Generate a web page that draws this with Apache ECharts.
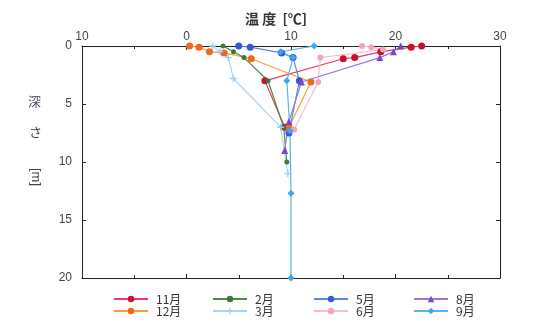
<!DOCTYPE html>
<html>
<head>
<meta charset="utf-8">
<script src="https://cdn.jsdelivr.net/npm/echarts@6/dist/echarts.min.js"></script>
<style>
  html, body { margin: 0; padding: 0; background: #fff; }
  #chart { width: 533px; height: 328px; }
</style>
</head>
<body>
<div id="chart"></div>
<script>
// temperature profiles: depth [m] and temperature [°C] per month
const months = ['11月', '12月', '2月', '3月', '5月', '6月', '8月', '9月'];

const depth11 = [0, 0.1, 0.5, 1.0, 1.1, 3.0, 7.0];
const temp11 = [22.5, 21.5, 18.6, 16.1, 15.0, 7.5, 9.4];

const depth12 = [0, 0.1, 0.5, 0.6, 1.1, 3.1, 7.0];
const temp12 = [0.3, 1.2, 2.2, 3.6, 6.2, 11.9, 9.8];

const depth2 = [0, 0.5, 1.0, 3.0, 7.0, 10.0];
const temp2 = [3.5, 4.5, 5.5, 7.8, 9.3, 9.6];

const depth3 = [0, 0.5, 1.0, 2.8, 7.0, 11.0];
const temp3 = [2.5, 3.2, 4.0, 4.5, 9.0, 9.7];

const depth5 = [0, 0.1, 0.6, 1.0, 3.0, 7.5];
const temp5 = [5.0, 6.1, 9.1, 10.2, 10.8, 9.8];

const depth6 = [0, 0.1, 0.3, 1.0, 3.1, 7.2];
const temp6 = [16.8, 17.7, 18.8, 12.8, 12.6, 10.3];

const depth8 = [0, 0.5, 1.0, 3.1, 6.5, 9.0];
const temp8 = [20.5, 19.8, 18.5, 11.0, 9.8, 9.4];

const depth9 = [0, 0.5, 1.0, 3.0, 7.3, 12.7, 20.0];
const temp9 = [12.2, 9.0, 10.2, 9.6, 9.9, 10.0, 10.0];

const xTicks = [-10, 0, 10, 20, 30];
const xTickText = ['10', '0', '10', '20', '30'];
const yTicks = [0, 5, 10, 15, 20];

const profiles = [
  [depth11, temp11], [depth12, temp12], [depth2, temp2], [depth3, temp3],
  [depth5, temp5], [depth6, temp6], [depth8, temp8], [depth9, temp9],
];
const colors = ['#c4122f', '#f2661e', '#3d7a3a', '#9ccdf3', '#3a55d9', '#f6a5b6', '#7a45c8', '#3ea6ee'];
const lineColors = ['#e0406a', '#f5a040', '#4f8a48', '#a8d4f5', '#5b86e6', '#f8bccb', '#9a78d8', '#5ab4f0'];
const plusPath = 'path://M4,0L6,0L6,4L10,4L10,6L6,6L6,10L4,10L4,6L0,6L0,4L4,4Z';
const symbols = ['circle', 'circle', 'circle', plusPath, 'circle', 'circle', 'triangle', 'diamond'];
const sizes = [7, 7, 5, 7, 7, 6, 7, 7];

const chart = echarts.init(document.getElementById('chart'));

const series = months.map((name, i) => ({
  name,
  type: 'line',
  data: profiles[i][0].map((d, j) => [profiles[i][1][j], d]),
  symbol: symbols[i],
  symbolSize: sizes[i],
  itemStyle: { color: colors[i] },
  lineStyle: { color: lineColors[i], width: 1.2 },
  emphasis: { disabled: true },
  z: 3,
}));

const legendCols = [['11月', '12月'], ['2月', '3月'], ['5月', '6月'], ['8月', '9月']];
const legendLeft = [108, 207, 308, 408];

const axisLine = { show: true, onZero: false, lineStyle: { color: '#222', width: 1 } };
const tick = { show: true, inside: true, length: 4, lineStyle: { color: '#222' } };

chart.setOption({
  backgroundColor: '#fff',
  animation: false,
  title: {
    text: '温 度  [℃]',
    left: 240,
    top: 7,
    textStyle: { fontSize: 14, fontWeight: 'bold', color: '#333', fontFamily: 'Noto Sans CJK JP' },
  },
  legend: legendCols.map((names, i) => ({
    orient: 'vertical',
    left: legendLeft[i],
    top: 288,
    data: names,
    itemWidth: 34,
    itemHeight: 8,
    itemGap: 0,
    textStyle: { fontSize: 12, color: '#333', fontFamily: 'Noto Sans CJK JP', padding: [0, 0, 0, 3] },
  })),
  graphic: [
    { type: 'text', left: 28, top: 95, style: { text: '深', font: '13px "Noto Sans CJK JP"', fill: '#5a4a6a' } },
    { type: 'text', left: 29, top: 126, style: { text: 'さ', font: '13px "Noto Sans CJK JP"', fill: '#444' } },
    {
      type: 'text', x: 36, y: 177, rotation: -Math.PI / 2,
      style: { text: '[m]', font: '13px "Liberation Sans"', fill: '#444', align: 'center', verticalAlign: 'middle' },
    },
  ],
  grid: { left: 82, right: 33, top: 46, bottom: 50 },
  xAxis: [
    {
      type: 'value',
      position: 'top',
      min: -10,
      max: 30,
      interval: 10,
      axisLine,
      axisTick: tick,
      minorTick: { show: true, splitNumber: 2, length: 3, lineStyle: { color: '#222' } },
      axisLabel: {
        margin: 3,
        fontSize: 12,
        color: '#444',
        fontFamily: 'Liberation Sans',
        formatter: v => xTickText[xTicks.indexOf(v)] ?? '',
      },
      splitLine: { show: false },
    },
    {
      type: 'value',
      position: 'bottom',
      min: -10,
      max: 30,
      interval: 10,
      axisLine,
      axisTick: tick,
      minorTick: { show: true, splitNumber: 2, length: 3, lineStyle: { color: '#222' } },
      axisLabel: { show: false },
      splitLine: { show: false },
    },
  ],
  yAxis: [
    {
      type: 'value',
      inverse: true,
      min: 0,
      max: 20,
      interval: 5,
      axisLine,
      axisTick: tick,
      axisLabel: {
        margin: 10,
        fontSize: 12,
        color: '#444',
        fontFamily: 'Liberation Sans',
        formatter: v => (yTicks.includes(v) ? String(v) : ''),
      },
      splitLine: { show: false },
    },
    {
      type: 'value',
      inverse: true,
      position: 'right',
      min: 0,
      max: 20,
      interval: 5,
      axisLine,
      axisTick: tick,
      axisLabel: { show: false },
      splitLine: { show: false },
    },
  ],
  series,
});
</script>
</body>
</html>
